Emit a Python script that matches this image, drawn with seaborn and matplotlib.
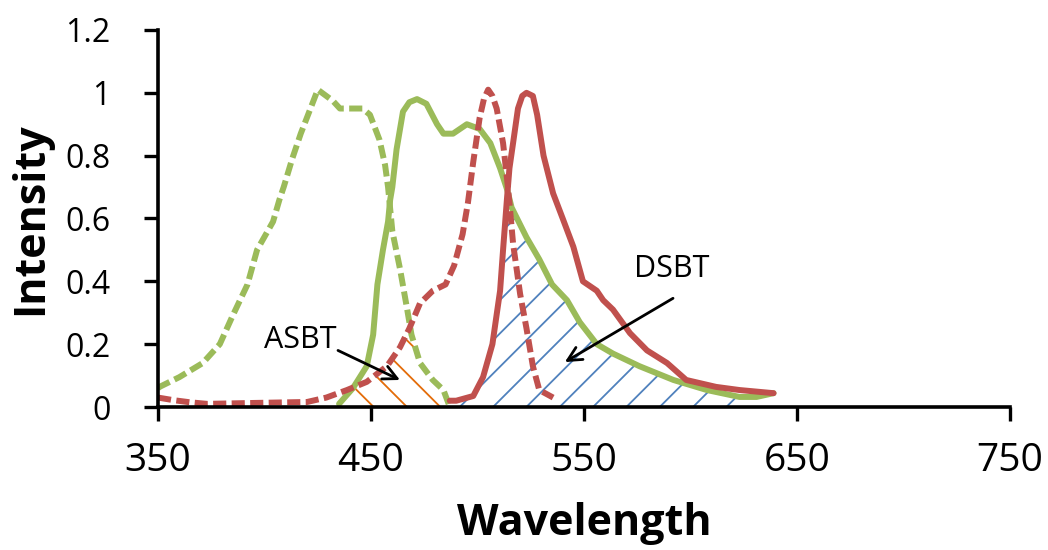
import numpy as np
import matplotlib
matplotlib.use("Agg")
import matplotlib.pyplot as plt
import seaborn as sns

# donor excitation (green dashed)
don_ex_wl = [350, 351, 360, 371, 379, 385, 392, 396.5, 404, 407, 409, 413, 417, 421, 425,
             432, 435.4, 439, 446, 449.5, 454, 456.6, 458, 460, 463.6, 467, 469, 473, 479, 484, 487]
don_ex_val = [0.06, 0.065, 0.095, 0.14, 0.20, 0.29, 0.39, 0.50, 0.59, 0.66, 0.70, 0.79, 0.87, 0.94, 1.01,
              0.975, 0.95, 0.95, 0.95, 0.93, 0.85, 0.77, 0.70, 0.56, 0.44, 0.31, 0.23, 0.14, 0.086, 0.054, 0.0]

# donor emission (green solid)
don_em_wl = [435, 441.5, 448, 451, 453, 455.6, 458, 459, 460, 462, 465, 468, 471.6, 476, 481, 484,
             488.5, 495, 501, 506, 510.6, 514, 516, 523, 529, 535, 542, 548, 556, 563.6, 576, 592,
             607.7, 623, 631, 639]
don_em_val = [0.01, 0.06, 0.13, 0.23, 0.39, 0.50, 0.59, 0.66, 0.70, 0.82, 0.94, 0.97, 0.98, 0.965, 0.90, 0.87,
              0.87, 0.90, 0.885, 0.84, 0.76, 0.69, 0.635, 0.54, 0.47, 0.39, 0.34, 0.27, 0.20, 0.17, 0.13, 0.086,
              0.054, 0.032, 0.032, 0.044]

# acceptor excitation (red dashed)
acc_ex_wl = [350, 357, 365, 373, 396, 420, 429, 438.7, 448, 457.5, 463.6, 468, 473, 479, 485, 489,
             493, 495.5, 498, 501, 503, 505, 507, 509, 512, 513.8, 515, 516.7, 520, 523, 526, 529, 535.5]
acc_ex_val = [0.03, 0.022, 0.015, 0.01, 0.013, 0.016, 0.03, 0.054, 0.08, 0.13, 0.19, 0.25, 0.33, 0.37, 0.39, 0.45,
              0.55, 0.65, 0.78, 0.92, 0.98, 1.01, 0.99, 0.95, 0.84, 0.73, 0.65, 0.52, 0.36, 0.25, 0.13, 0.054, 0.03]

# acceptor emission (red solid)
acc_em_wl = [487, 490, 498, 502.6, 507, 510.6, 512, 513.8, 515, 516.7, 519, 521, 523, 526, 528, 531, 535.5,
             540, 545, 549.5, 556, 559, 563.6, 571.6, 579.6, 589, 598, 612, 623, 639]
acc_em_val = [0.02, 0.02, 0.035, 0.095, 0.20, 0.37, 0.50, 0.66, 0.76, 0.84, 0.95, 0.99, 1.0, 0.99, 0.93, 0.80, 0.68,
              0.60, 0.51, 0.40, 0.37, 0.34, 0.31, 0.235, 0.18, 0.14, 0.086, 0.064, 0.054, 0.044]

x_ticks = [350, 450, 550, 650, 750]
y_ticks = [0, 0.2, 0.4, 0.6, 0.8, 1.0, 1.2]
y_tick_labels = ["0", "0.2", "0.4", "0.6", "0.8", "1", "1.2"]

green = "#9BBB59"
red = "#C0504D"
orange = "#E36C09"
blue = "#4F81BD"

sns.set_style("ticks")
plt.rcParams['font.family'] = ['Open Sans', 'DejaVu Sans']
plt.rcParams['hatch.linewidth'] = 1.3
plt.rcParams['text.color'] = 'black'
plt.rcParams['axes.labelcolor'] = 'black'
plt.rcParams['xtick.color'] = 'black'
plt.rcParams['ytick.color'] = 'black'

fig = plt.figure(figsize=(10.48, 5.5), dpi=100)
ax = fig.add_axes([0.1508, 0.26, 0.8129, 0.6855])

lw = 4.3
dash = (2.2, 0.9)
sns.lineplot(x=don_ex_wl, y=don_ex_val, ax=ax, color=green, lw=lw, sort=False, estimator=None)
ax.lines[-1].set_dashes(dash)
sns.lineplot(x=don_em_wl, y=don_em_val, ax=ax, color=green, lw=lw, sort=False, estimator=None)
sns.lineplot(x=acc_ex_wl, y=acc_ex_val, ax=ax, color=red, lw=lw, sort=False, estimator=None)
ax.lines[-1].set_dashes(dash)
sns.lineplot(x=acc_em_wl, y=acc_em_val, ax=ax, color=red, lw=lw, sort=False, estimator=None)

# ASBT region: under both dashed curves
g1 = np.linspace(435, 487, 200)
top1 = np.minimum(np.interp(g1, acc_ex_wl, acc_ex_val), np.interp(g1, don_ex_wl, don_ex_val))
ax.fill_between(g1, 0, top1, facecolor="none", edgecolor=orange, hatch="\\", linewidth=0)

# DSBT region: under both emission curves
g2 = np.linspace(487, 625, 300)
top2 = np.minimum(np.interp(g2, acc_em_wl, acc_em_val), np.interp(g2, don_em_wl, don_em_val))
ax.fill_between(g2, 0, top2, facecolor="none", edgecolor=blue, hatch="/", linewidth=0)

arrow = dict(arrowstyle="->", lw=2, color="black", mutation_scale=25, shrinkA=0, shrinkB=0)
ax.text(417, 0.213, "ASBT", fontsize=22, ha="center", va="center")
ax.annotate("", xy=(463.6, 0.086), xytext=(434.5, 0.18), arrowprops=arrow)
ax.text(591, 0.44, "DSBT", fontsize=22, ha="center", va="center")
ax.annotate("", xy=(541, 0.143), xytext=(591.8, 0.346), arrowprops=arrow)

ax.set_xlim(350, 750)
ax.set_ylim(0, 1.2)
ax.set_xticks(x_ticks)
ax.set_yticks(y_ticks)
ax.set_yticklabels(y_tick_labels)
ax.tick_params(axis="both", direction="out", length=10, width=2.4)
ax.tick_params(axis="y", pad=24, labelsize=23)
ax.tick_params(axis="x", pad=15, labelsize=28)
for s in ["left", "bottom"]:
    ax.spines[s].set_linewidth(2.6)
    ax.spines[s].set_color("black")
sns.despine(ax=ax)
ax.set_xlabel("Wavelength", fontsize=31, fontweight="bold", labelpad=16)
ax.set_ylabel("Intensity", fontsize=31, fontweight="bold", labelpad=10)

fig.savefig("out.png", dpi=100)
